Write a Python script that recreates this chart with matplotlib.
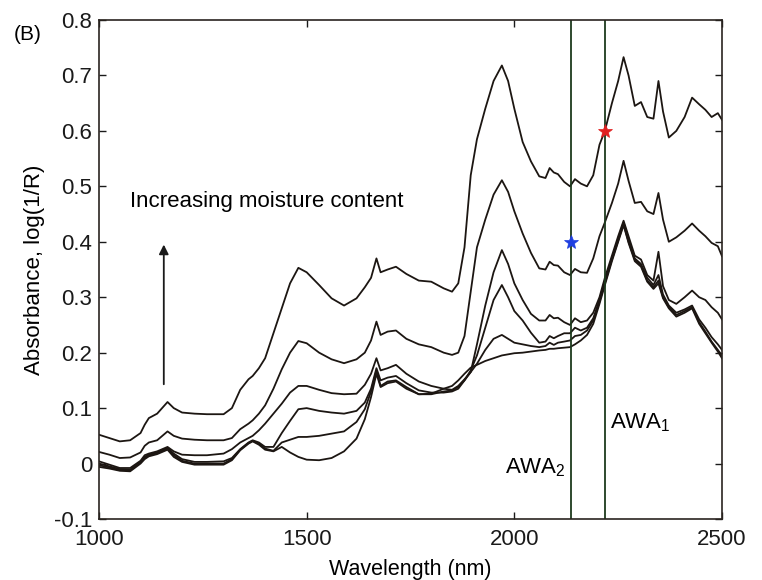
import matplotlib
matplotlib.use("Agg")
import matplotlib.pyplot as plt

plt.rcParams['font.family'] = ['Liberation Sans', 'DejaVu Sans']
plt.rcParams['mathtext.default'] = 'regular'

wavelength = [1000, 1025, 1050, 1075, 1100, 1110, 1120, 1140, 1165, 1180, 1200, 1230, 1260, 1300,
              1320, 1340, 1360, 1370, 1385, 1400, 1420, 1440, 1460, 1480, 1500, 1530, 1560, 1590,
              1620, 1640, 1655, 1668, 1678, 1695, 1715, 1740, 1770, 1800, 1830, 1850, 1865, 1880,
              1895, 1910, 1930, 1950, 1970, 1985, 2000, 2020, 2040, 2060, 2075, 2085, 2095, 2105,
              2120, 2134, 2146, 2160, 2175, 2190, 2205, 2218, 2235, 2250, 2263, 2275, 2290, 2305,
              2320, 2335, 2347, 2358, 2372, 2390, 2410, 2428, 2445, 2460, 2475, 2490, 2500]

spec1 = [0.052, 0.046, 0.040, 0.042, 0.055, 0.070, 0.082, 0.090, 0.111, 0.100, 0.092, 0.090, 0.089, 0.089,
         0.100, 0.133, 0.152, 0.158, 0.172, 0.190, 0.235, 0.280, 0.325, 0.353, 0.345, 0.322, 0.298, 0.285,
         0.298, 0.318, 0.335, 0.370, 0.345, 0.350, 0.355, 0.342, 0.330, 0.328, 0.316, 0.310, 0.325, 0.390,
         0.520, 0.585, 0.640, 0.690, 0.718, 0.690, 0.640, 0.580, 0.545, 0.518, 0.515, 0.533, 0.525, 0.522,
         0.508, 0.500, 0.513, 0.505, 0.500, 0.520, 0.575, 0.600, 0.650, 0.690, 0.733, 0.700, 0.645, 0.652,
         0.625, 0.622, 0.690, 0.635, 0.588, 0.600, 0.625, 0.660, 0.648, 0.638, 0.625, 0.632, 0.620]

spec2 = [0.021, 0.016, 0.010, 0.011, 0.020, 0.032, 0.038, 0.042, 0.058, 0.050, 0.045, 0.043, 0.042, 0.042,
         0.046, 0.062, 0.072, 0.078, 0.090, 0.105, 0.135, 0.170, 0.200, 0.221, 0.217, 0.200, 0.188, 0.181,
         0.188, 0.200, 0.222, 0.256, 0.232, 0.238, 0.240, 0.225, 0.215, 0.210, 0.200, 0.196, 0.200, 0.230,
         0.310, 0.390, 0.440, 0.485, 0.511, 0.490, 0.455, 0.415, 0.380, 0.352, 0.350, 0.364, 0.358, 0.357,
         0.345, 0.340, 0.351, 0.345, 0.344, 0.370, 0.410, 0.435, 0.470, 0.505, 0.546, 0.510, 0.470, 0.472,
         0.455, 0.450, 0.488, 0.440, 0.400, 0.408, 0.420, 0.433, 0.420, 0.410, 0.398, 0.392, 0.374]

spec3 = [0.004, -0.002, -0.008, -0.008, 0.005, 0.015, 0.018, 0.022, 0.030, 0.022, 0.016, 0.015, 0.015, 0.018,
         0.026, 0.038, 0.046, 0.050, 0.060, 0.072, 0.090, 0.108, 0.128, 0.140, 0.140, 0.133, 0.127, 0.125,
         0.126, 0.142, 0.162, 0.190, 0.168, 0.172, 0.178, 0.162, 0.148, 0.140, 0.135, 0.133, 0.140, 0.152,
         0.165, 0.215, 0.285, 0.345, 0.385, 0.360, 0.325, 0.295, 0.270, 0.258, 0.258, 0.268, 0.262, 0.263,
         0.255, 0.250, 0.262, 0.255, 0.258, 0.272, 0.300, 0.335, 0.375, 0.410, 0.438, 0.410, 0.375, 0.368,
         0.340, 0.330, 0.382, 0.320, 0.295, 0.288, 0.300, 0.312, 0.300, 0.295, 0.282, 0.272, 0.260]

spec4 = [0.000, -0.005, -0.010, -0.011, 0.003, 0.012, 0.016, 0.020, 0.028, 0.018, 0.008, 0.003, 0.003, 0.004,
         0.010, 0.026, 0.038, 0.042, 0.038, 0.030, 0.030, 0.055, 0.077, 0.098, 0.100, 0.095, 0.092, 0.090,
         0.095, 0.110, 0.135, 0.172, 0.150, 0.155, 0.158, 0.145, 0.132, 0.128, 0.128, 0.130, 0.135, 0.150,
         0.168, 0.195, 0.245, 0.295, 0.322, 0.300, 0.275, 0.258, 0.236, 0.218, 0.220, 0.230, 0.226, 0.230,
         0.235, 0.235, 0.245, 0.240, 0.245, 0.262, 0.295, 0.330, 0.370, 0.405, 0.435, 0.405, 0.370, 0.360,
         0.335, 0.322, 0.340, 0.305, 0.285, 0.272, 0.278, 0.285, 0.260, 0.245, 0.228, 0.215, 0.205]

spec5 = [-0.003, -0.007, -0.012, -0.012, 0.002, 0.010, 0.015, 0.019, 0.027, 0.015, 0.005, 0.000, 0.000, 0.000,
         0.008, 0.025, 0.037, 0.041, 0.036, 0.027, 0.023, 0.038, 0.043, 0.048, 0.048, 0.050, 0.054, 0.058,
         0.075, 0.098, 0.130, 0.168, 0.140, 0.148, 0.150, 0.138, 0.125, 0.125, 0.130, 0.132, 0.138, 0.150,
         0.165, 0.180, 0.205, 0.225, 0.232, 0.225, 0.218, 0.215, 0.212, 0.210, 0.212, 0.218, 0.214, 0.218,
         0.220, 0.222, 0.230, 0.232, 0.240, 0.258, 0.292, 0.325, 0.368, 0.402, 0.432, 0.400, 0.368, 0.358,
         0.330, 0.318, 0.330, 0.300, 0.282, 0.268, 0.275, 0.282, 0.255, 0.238, 0.220, 0.205, 0.195]

spec6 = [-0.006, -0.009, -0.013, -0.014, 0.000, 0.008, 0.013, 0.017, 0.025, 0.012, 0.003, -0.002, -0.002, -0.002,
         0.006, 0.024, 0.036, 0.040, 0.034, 0.025, 0.022, 0.030, 0.020, 0.012, 0.007, 0.006, 0.010, 0.022,
         0.045, 0.080, 0.120, 0.162, 0.138, 0.145, 0.148, 0.135, 0.125, 0.126, 0.135, 0.140, 0.150, 0.162,
         0.173, 0.178, 0.185, 0.190, 0.195, 0.197, 0.199, 0.200, 0.202, 0.204, 0.205, 0.207, 0.207, 0.208,
         0.209, 0.210, 0.215, 0.222, 0.232, 0.252, 0.288, 0.322, 0.365, 0.400, 0.430, 0.398, 0.365, 0.355,
         0.328, 0.315, 0.325, 0.298, 0.280, 0.265, 0.272, 0.280, 0.252, 0.235, 0.218, 0.202, 0.190]

spectra = [spec1, spec2, spec3, spec4, spec5, spec6]

awa_wavelengths = [2136, 2218]
awa_labels = ['AWA$_2$', 'AWA$_1$']
marker_points = [(2136, 0.40, '#1f3fe0'), (2218, 0.60, '#e02020')]

x_ticks = [1000, 1500, 2000, 2500]
y_ticks = [-0.1, 0, 0.1, 0.2, 0.3, 0.4, 0.5, 0.6, 0.7, 0.8]
y_tick_labels = ['-0.1', '0', '0.1', '0.2', '0.3', '0.4', '0.5', '0.6', '0.7', '0.8']

fig = plt.figure(figsize=(7.62, 5.80), dpi=100)
ax = fig.add_axes([99/762, 1 - 519/580, 623/762, 499/580])

line_col = '#1c1612'
for s in spectra:
    ax.plot(wavelength, s, color=line_col, lw=1.3, solid_joinstyle='round')

for w in awa_wavelengths:
    ax.axvline(w, color='#1e3a1e', lw=1.3)

for (w, v, c) in marker_points:
    ax.plot([w], [v], marker='*', color=c, markersize=10, markeredgewidth=0.5, zorder=5)

ax.set_xlim(1000, 2500)
ax.set_ylim(-0.1, 0.8)
ax.set_xticks(x_ticks)
ax.set_xticklabels([str(t) for t in x_ticks])
ax.set_yticks(y_ticks)
ax.set_yticklabels(y_tick_labels)
ax.tick_params(direction='in', top=True, right=True, length=5, width=1, labelsize=16,
               colors='#1a1a1a')
ax.tick_params(axis='x', pad=7)
ax.tick_params(axis='y', pad=5)
for sp in ax.spines.values():
    sp.set_color('#2a2420')
    sp.set_linewidth(1.2)

ax.set_xlabel('Wavelength (nm)', fontsize=15.5, labelpad=7)
ax.set_ylabel('Absorbance, log(1/R)', fontsize=16)
ax.yaxis.set_label_coords(-0.087, 0.5)

ax.text(-0.115, 0.97, '(B)', transform=ax.transAxes, fontsize=15, ha='center', va='center')
ax.text(1075, 0.472, 'Increasing moisture content', fontsize=16, ha='left', va='center')
ax.annotate('', xy=(1156, 0.40), xytext=(1156, 0.138),
            arrowprops=dict(arrowstyle='-|>', color='#1a1a1a', lw=1.3, mutation_scale=14))
ax.text(2123, -0.008, awa_labels[0], fontsize=16, ha='right', va='center')
ax.text(2230, 0.073, awa_labels[1], fontsize=16, ha='left', va='center')

fig.savefig('out.png', dpi=100)
